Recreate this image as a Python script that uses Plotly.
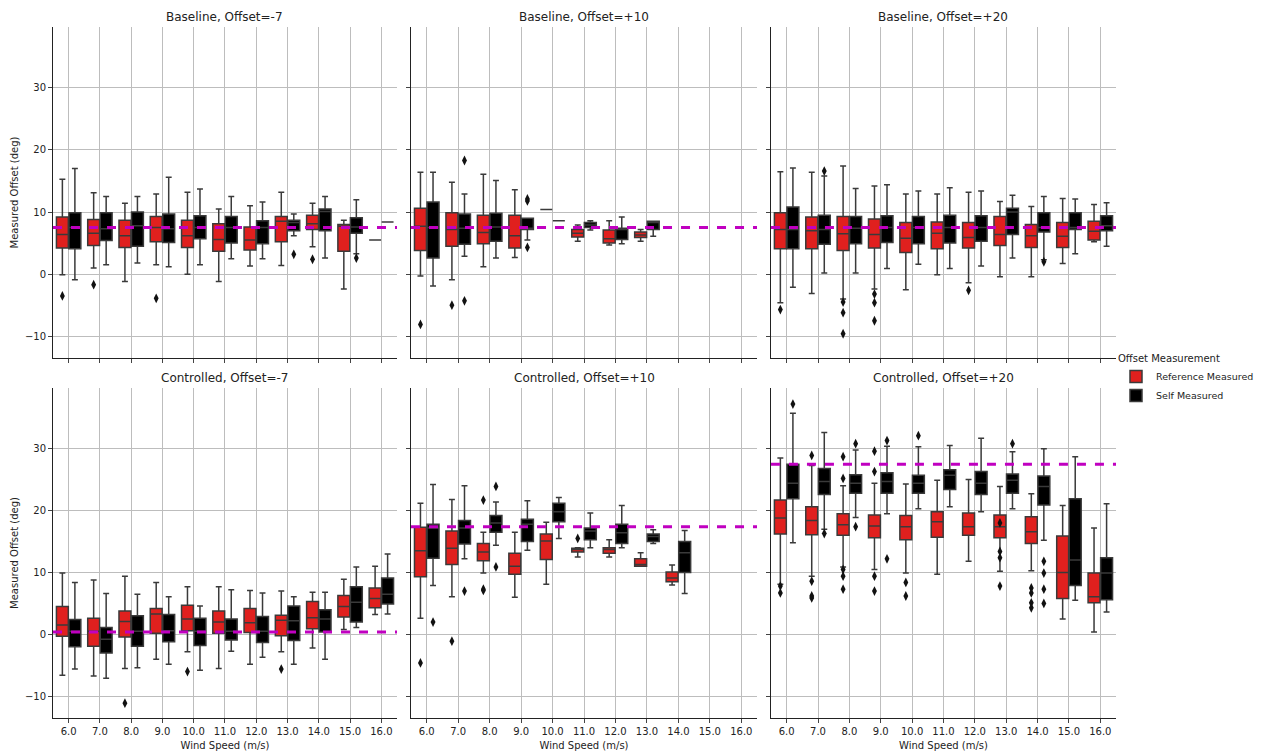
import plotly.graph_objects as go
from plotly.subplots import make_subplots

wind_speeds = ["6.0", "7.0", "8.0", "9.0", "10.0", "11.0", "12.0", "13.0", "14.0", "15.0", "16.0"]
panel_titles = ["Baseline, Offset=-7", "Baseline, Offset=+10", "Baseline, Offset=+20",
                "Controlled, Offset=-7", "Controlled, Offset=+10", "Controlled, Offset=+20"]
target_offsets = [7.5, 7.5, 7.5, 0.4, 17.4, 27.5]

# box stats per wind speed: (lower whisker, q1, median, q3, upper whisker); None = no data
base_m7_ref = [(-0.1, 4.2, 6.4, 9.2, 15.3), (1.0, 4.6, 6.6, 8.8, 13.1), (-1.2, 4.3, 6.2, 8.7, 11.4),
               (1.5, 5.2, 7.5, 9.3, 12.9), (0.0, 4.3, 6.2, 8.7, 13.2), (-1.2, 3.7, 5.6, 8.1, 10.5),
               (1.3, 3.9, 5.5, 7.6, 11.0), (1.4, 5.2, 8.5, 9.3, 13.2), (4.4, 7.2, 8.1, 9.5, 11.4),
               (-2.4, 3.7, 7.7, 8.0, 8.7), (5.5, 5.5, 5.5, 5.5, 5.5)]
base_m7_self = [(-0.9, 4.1, 7.5, 9.9, 17.0), (1.5, 5.4, 7.3, 9.9, 12.5), (1.8, 4.5, 7.8, 10.0, 12.5),
                (1.2, 5.1, 7.3, 9.7, 15.6), (1.5, 5.7, 7.5, 9.4, 13.7), (2.5, 5.0, 7.5, 9.3, 12.5),
                (2.5, 4.9, 7.5, 8.6, 11.6), (6.2, 7.0, 8.3, 8.7, 9.7), (2.6, 7.0, 10.1, 10.5, 12.5),
                (3.3, 6.6, 7.6, 9.1, 12.0), (8.4, 8.4, 8.4, 8.4, 8.4)]
base_p10_ref = [(-0.3, 3.8, 7.7, 10.6, 16.4), (-0.9, 4.5, 7.2, 9.9, 14.8), (1.2, 4.9, 6.7, 9.5, 16.1),
                (2.7, 4.2, 6.2, 9.5, 13.6), (10.4, 10.4, 10.4, 10.4, 10.4), (5.3, 6.0, 6.6, 7.2, 7.9),
                (4.7, 5.0, 5.7, 7.1, 8.6), (5.3, 5.9, 6.3, 6.8, 7.2), None, None, None]
base_p10_self = [(-1.9, 2.6, 7.5, 11.6, 16.4), (2.9, 4.8, 7.4, 9.7, 12.9), (2.6, 5.3, 7.6, 9.8, 15.1),
                 (5.5, 7.2, 7.4, 9.0, 9.0), (8.6, 8.6, 8.6, 8.6, 8.6), (7.1, 7.5, 7.9, 8.3, 8.6),
                 (4.9, 5.6, 7.2, 7.4, 9.2), (6.1, 7.2, 8.3, 8.5, 8.5), None, None, None]
base_p20_ref = [(-4.6, 4.1, 7.2, 9.9, 16.5), (-3.1, 4.1, 7.0, 9.2, 16.4), (-4.0, 3.8, 6.5, 9.3, 17.4),
                (-2.4, 4.2, 6.4, 8.9, 14.2), (-2.5, 3.5, 5.8, 8.3, 12.9), (-0.1, 4.1, 6.6, 8.4, 12.9),
                (-1.4, 4.2, 5.9, 8.3, 13.2), (-0.4, 4.6, 6.4, 9.3, 11.7), (-0.4, 4.3, 6.2, 8.0, 10.9),
                (1.7, 4.3, 6.1, 8.3, 12.2), (5.2, 5.5, 6.9, 8.5, 11.2)]
base_p20_self = [(-2.1, 4.1, 7.2, 10.8, 17.1), (0.2, 4.8, 7.2, 9.5, 15.8), (0.2, 4.9, 7.4, 9.3, 13.8),
                 (0.9, 5.1, 7.5, 9.4, 14.4), (1.6, 4.9, 7.5, 9.3, 13.4), (0.9, 5.0, 7.5, 9.5, 13.9),
                 (1.3, 5.3, 7.5, 9.4, 13.4), (2.6, 6.4, 10.0, 10.6, 12.7), (2.3, 6.8, 7.5, 9.9, 12.5),
                 (3.3, 7.2, 7.5, 9.9, 12.1), (4.5, 7.0, 7.8, 9.4, 11.5)]
ctrl_m7_ref = [(-6.6, -0.3, 1.5, 4.5, 9.9), (-6.7, -1.9, 0.5, 2.6, 8.8), (-5.5, -0.4, 2.1, 3.8, 9.4),
               (-4.0, 0.2, 3.3, 4.2, 8.4), (-2.8, 0.6, 2.5, 4.7, 7.7), (-5.5, 0.2, 2.0, 3.8, 7.7),
               (-4.8, 0.3, 1.9, 4.2, 7.1), (-2.8, -0.2, 2.3, 3.1, 7.0), (-2.2, 0.9, 2.7, 5.3, 6.8),
               (0.8, 2.8, 4.5, 6.3, 8.9), (3.2, 4.3, 5.8, 7.5, 11.0)]
ctrl_m7_self = [(-5.6, -2.0, 0.5, 2.4, 8.4), (-7.1, -3.0, -0.8, 1.1, 6.6), (-5.4, -1.9, 0.5, 3.0, 6.5),
                (-4.8, -1.2, 0.6, 3.2, 6.1), (-5.8, -1.8, 0.5, 2.6, 4.6), (-2.7, -0.9, 0.5, 2.5, 7.2),
                (-3.7, -1.3, 0.5, 2.9, 6.7), (-4.8, -1.0, 2.2, 4.6, 6.1), (-4.0, 0.4, 2.5, 4.0, 6.8),
                (1.1, 2.0, 5.2, 7.7, 10.9), (3.3, 4.9, 6.5, 9.1, 13.0)]
ctrl_p10_ref = [(2.6, 9.3, 13.5, 17.3, 21.2), (6.1, 11.3, 13.9, 16.7, 21.8), (9.9, 11.9, 13.3, 14.7, 16.5),
                (6.0, 9.7, 11.0, 13.1, 16.5), (8.1, 12.1, 15.1, 16.2, 18.1), (12.5, 13.3, 13.7, 13.9, 14.0),
                (12.5, 13.1, 13.7, 14.0, 15.3), (11.0, 11.0, 11.3, 12.2, 13.2), (8.0, 8.5, 9.1, 10.1, 11.2),
                None, None]
ctrl_p10_self = [(7.9, 12.3, 17.2, 17.8, 24.2), (12.2, 14.6, 17.2, 18.4, 24.0), (14.4, 16.5, 18.0, 19.2, 21.4),
                 (13.6, 15.0, 17.8, 18.6, 21.6), (15.5, 18.2, 19.8, 21.2, 22.1), (14.0, 15.3, 16.7, 17.2, 19.6),
                 (14.0, 14.7, 16.4, 17.8, 20.8), (14.7, 15.0, 15.8, 16.2, 16.9), (6.6, 10.0, 13.2, 15.0, 16.8),
                 None, None]
ctrl_p20_ref = [(8.1, 16.2, 18.8, 21.7, 28.5), (9.4, 16.1, 18.4, 20.6, 27.3), (10.9, 16.0, 17.7, 19.5, 24.0),
                (10.5, 15.6, 17.5, 19.3, 24.4), (9.9, 15.3, 17.4, 19.2, 24.3), (9.7, 15.7, 18.2, 19.8, 24.9),
                (11.8, 16.0, 17.4, 19.6, 25.0), (10.2, 15.6, 17.4, 19.3, 23.9), (10.3, 14.7, 16.6, 19.0, 22.7),
                (2.5, 5.8, 10.0, 15.9, 20.8), (0.4, 5.1, 6.1, 9.9, 17.2)]
ctrl_p20_self = [(14.8, 21.9, 24.4, 27.5, 35.7), (17.0, 22.6, 24.7, 26.8, 32.6), (18.9, 22.8, 24.4, 25.8, 29.8),
                 (19.5, 22.8, 24.7, 26.1, 30.4), (20.3, 22.8, 24.4, 25.7, 30.3), (20.6, 23.4, 25.7, 26.6, 30.5),
                 (19.8, 22.6, 24.4, 26.3, 31.7), (20.3, 22.8, 24.9, 25.9, 29.5), (15.2, 20.9, 23.9, 25.6, 30.0),
                 (5.5, 7.9, 12.0, 21.9, 28.7), (3.6, 5.6, 9.9, 12.4, 21.1)]

# outliers: (wind speed index, value)
base_m7_ref_out = [(0, -3.5), (1, -1.7), (3, -3.9), (8, 2.4)]
base_m7_self_out = [(7, 3.2), (9, 2.6)]
base_p10_ref_out = [(0, -8.1), (1, -5.0)]
base_p10_self_out = [(1, 18.3), (1, -4.3), (3, 11.8), (3, 12.1), (3, 4.3)]
base_p20_ref_out = [(0, -5.7), (2, -4.5), (2, -6.2), (2, -9.6), (3, -3.2), (3, -4.6), (3, -7.5), (6, -2.6)]
base_p20_self_out = [(1, 16.6), (8, 2.0)]
ctrl_m7_ref_out = [(2, -11.1), (4, -6.0), (7, -5.6)]
ctrl_m7_self_out = []
ctrl_p10_ref_out = [(0, -4.6), (1, -1.1), (2, 21.7), (2, 7.3), (2, 7.1), (5, 15.5)]
ctrl_p10_self_out = [(0, 2.0), (1, 7.0), (2, 23.9), (2, 10.9)]
ctrl_p20_ref_out = [(0, 6.7), (0, 7.8), (1, 28.9), (1, 8.6), (1, 6.2), (1, 5.9), (2, 28.7), (2, 25.2),
                    (2, 10.5), (2, 9.4), (2, 7.3), (3, 29.6), (3, 26.3), (3, 9.4), (3, 7.0), (4, 8.4),
                    (4, 6.2), (7, 18.0), (7, 13.4), (7, 12.4), (7, 7.8), (8, 7.5), (8, 6.7), (8, 5.1), (8, 4.3)]
ctrl_p20_self_out = [(0, 37.2), (1, 16.3), (2, 30.8), (2, 17.4), (3, 31.3), (3, 12.2), (4, 32.1),
                     (7, 30.8), (8, 11.8), (8, 9.9), (8, 7.3), (8, 5.0)]

panels = [
    (base_m7_ref, base_m7_self, base_m7_ref_out, base_m7_self_out),
    (base_p10_ref, base_p10_self, base_p10_ref_out, base_p10_self_out),
    (base_p20_ref, base_p20_self, base_p20_ref_out, base_p20_self_out),
    (ctrl_m7_ref, ctrl_m7_self, ctrl_m7_ref_out, ctrl_m7_self_out),
    (ctrl_p10_ref, ctrl_p10_self, ctrl_p10_ref_out, ctrl_p10_self_out),
    (ctrl_p20_ref, ctrl_p20_self, ctrl_p20_ref_out, ctrl_p20_self_out),
]

RED = "#e0201e"
BLACK = "#000000"
EDGE = "#3a3a3a"
OFF = 0.2

fig = make_subplots(rows=2, cols=3, shared_xaxes=True, shared_yaxes=True)

for p, (ref, slf, ref_out, slf_out) in enumerate(panels):
    row, col = p // 3 + 1, p % 3 + 1
    for stats, outs, color, name, shift in [(ref, ref_out, RED, "Reference Measured", -OFF),
                                            (slf, slf_out, BLACK, "Self Measured", OFF)]:
        xs, lo, q1, md, q3, hi = [], [], [], [], [], []
        for i, s in enumerate(stats):
            if s is None:
                continue
            xs.append(i + shift)
            lo.append(s[0]); q1.append(s[1]); md.append(s[2]); q3.append(s[3]); hi.append(s[4])
        fig.add_trace(go.Box(x=xs, lowerfence=lo, q1=q1, median=md, q3=q3, upperfence=hi,
                             width=0.38, fillcolor=color, line=dict(color=EDGE, width=1.5),
                             whiskerwidth=0.5, boxpoints=False, name=name,
                             legendgroup=name, showlegend=(p == 0), hoverinfo="y"),
                      row=row, col=col)
        if outs:
            fig.add_trace(go.Scatter(x=[o[0] + shift for o in outs], y=[o[1] for o in outs],
                                     mode="markers", marker=dict(symbol="diamond-tall", size=7, color="#111"),
                                     showlegend=False, hoverinfo="y"),
                          row=row, col=col)
    fig.add_trace(go.Scatter(x=[-0.5, 10.5], y=[target_offsets[p]] * 2, mode="lines",
                             line=dict(color="#c000c0", width=3, dash="dash"),
                             showlegend=False, hoverinfo="skip"),
                  row=row, col=col)

xdom = [[0.0, 0.3236], [0.3368, 0.6623], [0.6754, 1.0]]
ydom = [[0.521, 1.0], [0.0, 0.4776]]
for p in range(6):
    r, c = p // 3, p % 3
    sfx = "" if p == 0 else str(p + 1)
    fig.layout["xaxis" + sfx].update(domain=xdom[c], range=[-0.5, 10.5],
                                      tickvals=list(range(11)), ticktext=wind_speeds,
                                      showticklabels=(r == 1), showgrid=True, gridcolor="#bdbdbd",
                                      showline=True, linecolor="#222", ticks="outside",
                                      ticklen=4, zeroline=False, automargin=False,
                                      title_text="Wind Speed (m/s)" if r == 1 else None,
                                      title_standoff=8, title_font_size=10)
    fig.layout["yaxis" + sfx].update(domain=ydom[r], range=[-13.5, 39.8],
                                      tickvals=[-10, 0, 10, 20, 30], showticklabels=(c == 0),
                                      showgrid=True, gridcolor="#bdbdbd", showline=True,
                                      linecolor="#222", ticks="outside", ticklen=4, zeroline=False,
                                      automargin=False,
                                      title_text="Measured Offset (deg)" if c == 0 else None,
                                      title_standoff=4, title_font_size=10)
    fig.add_annotation(text=panel_titles[p], xref="paper", yref="paper",
                       x=sum(xdom[c]) / 2, y=ydom[r][1] + 0.002, xanchor="center", yanchor="bottom",
                       showarrow=False, font=dict(size=12, color="#222"))

# the page adds an 8 px body margin, so the figure is sized to fit inside it
fig.update_layout(
    width=1256, height=743,
    margin=dict(l=45, r=148, t=19, b=33, autoexpand=False),
    plot_bgcolor="white", paper_bgcolor="white",
    font=dict(family="DejaVu Sans", size=10, color="#222"),
    legend=dict(title=dict(text="Offset Measurement", font=dict(size=10)), x=1.0, y=0.49,
                xanchor="left", yanchor="middle", font=dict(size=9.5),
                tracegroupgap=0, itemwidth=30),
)

fig.write_html("out.html")
